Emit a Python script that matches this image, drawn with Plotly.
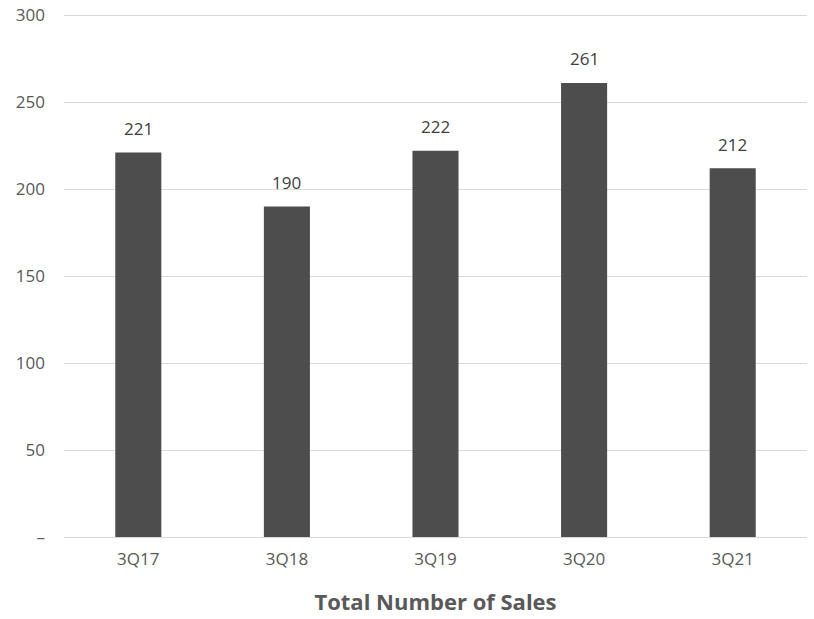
import plotly.graph_objects as go

categories = ["3Q17", "3Q18", "3Q19", "3Q20", "3Q21"]
sales = [221, 190, 222, 261, 212]
tick_vals = [0, 50, 100, 150, 200, 250, 300]
tick_text = ["–", "50", "100", "150", "200", "250", "300"]

FONT = "Open Sans"
fig = go.Figure(go.Bar(
    x=categories, y=sales,
    marker=dict(color="#4d4d4d", line=dict(width=0)),
    hoverinfo="x+y",
))
for c, v in zip(categories, sales):
    fig.add_annotation(
        x=c, y=v, text=str(v), showarrow=False,
        yanchor="middle", yshift=24,
        font=dict(family=FONT, size=17, color="#404040"),
    )
fig.update_layout(
    width=814, height=619,
    margin=dict(l=64, r=7, t=14, b=82, autoexpand=False),
    paper_bgcolor="white", plot_bgcolor="white",
    bargap=0.69, showlegend=False,
    font=dict(family=FONT, color="#595959", size=17),
)
fig.update_xaxes(
    showgrid=False, showline=False, ticks="", automargin=False,
    tickfont=dict(family=FONT, size=17, color="#595959"),
    ticklabelstandoff=10,
    title=dict(text="<b>Total Number of Sales</b>", standoff=25,
               font=dict(family=FONT, size=22, color="#595959")),
)
fig.update_yaxes(
    range=[0, 300.6], tickvals=tick_vals, ticktext=tick_text, automargin=False,
    showgrid=True, gridcolor="#d9d9d9", gridwidth=1,
    zeroline=True, zerolinecolor="#d9d9d9", zerolinewidth=1,
    showline=False, ticks="",
    tickfont=dict(family=FONT, size=17, color="#595959"),
    ticklabelstandoff=18,
)
fig.write_html("out.html", config={"displayModeBar": False},
               post_script="document.body.style.margin='0';document.body.style.overflow='hidden';")
